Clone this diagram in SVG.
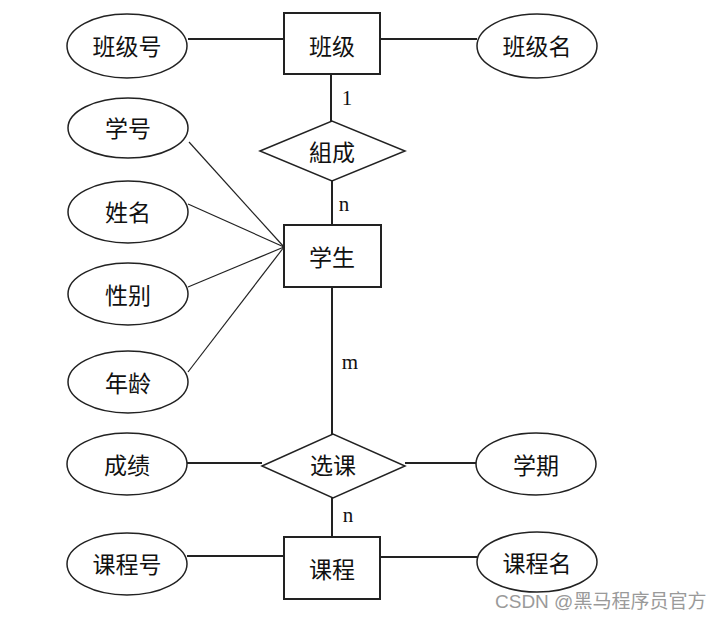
<svg xmlns="http://www.w3.org/2000/svg" width="722" height="620" viewBox="0 0 722 620">
<style>
.bg{fill:#fff}
.ent{fill:#fff;stroke:#222;stroke-width:2}
.rel{fill:#fff;stroke:#222;stroke-width:1.5}
.att{fill:#fff;stroke:#222;stroke-width:1.5}
.ln{stroke:#222;stroke-width:2;fill:none}
.ln2{stroke:#222;stroke-width:1.2;fill:none}
.t{font-family:"Noto Sans CJK SC","Noto Sans",sans-serif;font-size:23px;fill:#111;text-anchor:middle;dominant-baseline:central}
.card{font-family:"Liberation Serif",serif;font-size:21px;fill:#111;text-anchor:middle;dominant-baseline:central}
.wm{font-family:"Liberation Sans","Noto Sans CJK SC",sans-serif;font-size:19px;fill:#9a9a9a}
</style>
<rect class="bg" x="0" y="0" width="722" height="620"/>
<g id="connectors">
<line class="ln" x1="188" y1="39" x2="284" y2="39"/>
<line class="ln" x1="380" y1="39" x2="477" y2="39"/>
<line class="ln" x1="331" y1="74" x2="331" y2="121"/>
<line class="ln" x1="332" y1="181" x2="332" y2="225"/>
<line class="ln" x1="332" y1="287" x2="332" y2="434"/>
<line class="ln" x1="332" y1="498" x2="332" y2="537"/>
<line class="ln" x1="187" y1="463" x2="262" y2="463"/>
<line class="ln" x1="405" y1="463" x2="476" y2="463"/>
<line class="ln" x1="187" y1="556" x2="284" y2="556"/>
<line class="ln" x1="380" y1="557" x2="477" y2="557"/>
<line class="ln2" x1="189" y1="142" x2="284" y2="247"/>
<line class="ln2" x1="188" y1="204" x2="284" y2="247"/>
<line class="ln2" x1="188" y1="287" x2="284" y2="247"/>
<line class="ln2" x1="188" y1="372" x2="284" y2="247"/>
<text class="card" x="347" y="98">1</text>
<text class="card" x="344" y="204">n</text>
<text class="card" x="350" y="362">m</text>
<text class="card" x="348" y="515">n</text>
</g>
<g id="banji"><rect class="ent" x="284" y="13" width="96" height="61"/><text class="t" x="332" y="45">班级</text></g>
<g id="banjihao"><ellipse class="att" cx="127" cy="46" rx="60" ry="32"/><text class="t" x="127" y="45">班级号</text></g>
<g id="banjiming"><ellipse class="att" cx="537" cy="46" rx="60" ry="32"/><text class="t" x="537" y="45">班级名</text></g>
<g id="zucheng"><polygon class="rel" points="260,151 332,121 405,151 332,181"/><text class="t" x="332" y="151">組成</text></g>
<g id="xuesheng"><rect class="ent" x="284" y="225" width="97" height="62"/><text class="t" x="332" y="256">学生</text></g>
<g id="xuehao"><ellipse class="att" cx="128" cy="128" rx="60" ry="30"/><text class="t" x="128" y="127">学号</text></g>
<g id="xingming"><ellipse class="att" cx="128" cy="212" rx="60" ry="31"/><text class="t" x="128" y="211">姓名</text></g>
<g id="xingbie"><ellipse class="att" cx="128" cy="294" rx="60" ry="31"/><text class="t" x="128" y="294">性别</text></g>
<g id="nianling"><ellipse class="att" cx="128" cy="382" rx="60" ry="31"/><text class="t" x="128" y="382">年龄</text></g>
<g id="xuanke"><polygon class="rel" points="262,466 333,434 405,466 333,498"/><text class="t" x="333" y="464">选课</text></g>
<g id="chengji"><ellipse class="att" cx="127" cy="464" rx="60" ry="31"/><text class="t" x="127" y="464">成绩</text></g>
<g id="xueqi"><ellipse class="att" cx="536" cy="464" rx="60" ry="31"/><text class="t" x="536" y="464">学期</text></g>
<g id="kecheng"><rect class="ent" x="284" y="537" width="96" height="62"/><text class="t" x="332" y="568">课程</text></g>
<g id="kechenghao"><ellipse class="att" cx="127" cy="564" rx="60" ry="31"/><text class="t" x="127" y="563">课程号</text></g>
<g id="kechengming"><ellipse class="att" cx="537" cy="562" rx="60" ry="30"/><text class="t" x="537" y="562">课程名</text></g>
<text class="wm" x="495" y="608">CSDN @黑马程序员官方</text>
</svg>
